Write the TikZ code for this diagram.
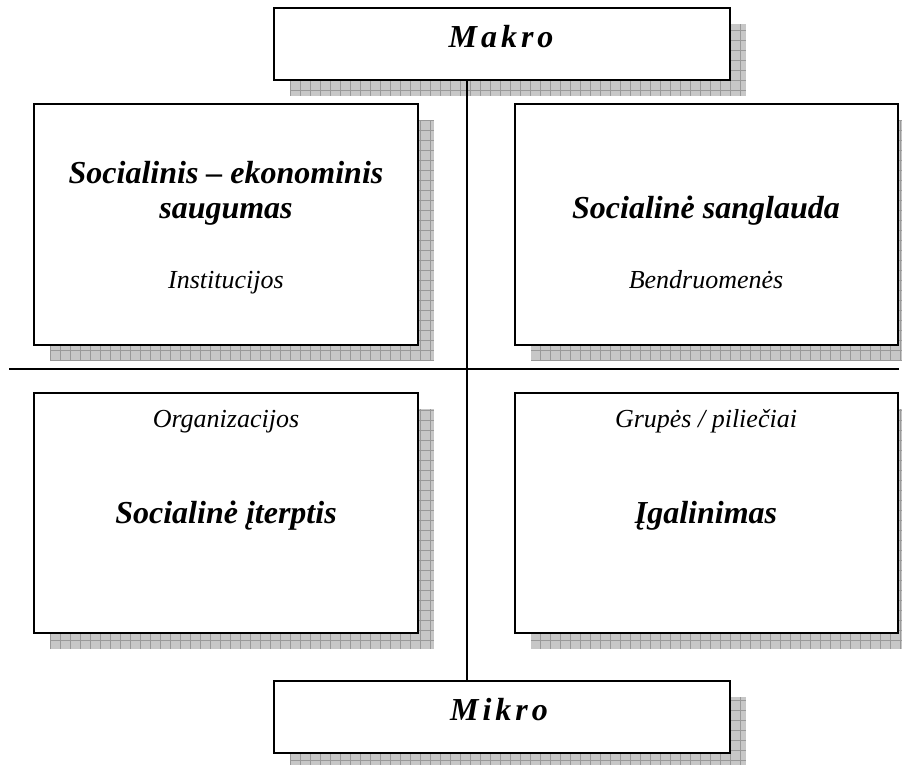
\documentclass[tikz,border=0pt]{standalone}
\usepackage{fontspec}
\setmainfont{Liberation Serif}
\newcommand\shbox[5]{%
  \begin{scope}
    \clip (#2+16,#3+16) rectangle (#4+16,#5+16);
    \fill[shadowfill] (#2+16,#3+16) rectangle (#4+16,#5+16);
    \draw[shadowgrid] (#2+16,#3+16) grid[step=10pt] (#4+16,#5+16);
  \end{scope}
  \node[box, minimum width=#4-#2, minimum height=#5-#3] (#1) at ({(#2+#4)/2},{(#3+#5)/2}) {};
}
\begin{document}
\begin{tikzpicture}[x=1pt,y=-1pt,
  box/.style={draw, line width=1.6pt, fill=white, inner sep=0pt, outer sep=0pt},
  shadowfill/.style={fill=black!22},
  shadowgrid/.style={draw=black!40, line width=0.7pt},
  big/.style={font=\fontsize{32}{36}\selectfont\bfseries\itshape, anchor=base, align=center},
  small/.style={font=\fontsize{26}{30}\selectfont\itshape, anchor=base},
  level/.style={font=\fontsize{32}{36}\selectfont\bfseries\itshape, anchor=base},
  axis/.style={line width=1.5pt}
]
\useasboundingbox (0,0) rectangle (902,765);
\shbox{makro}{274}{8}{730}{80}
\shbox{tl}{34}{104}{418}{345}
\shbox{tr}{515}{104}{898}{345}
\shbox{bl}{34}{393}{418}{633}
\shbox{br}{515}{393}{898}{633}
\shbox{mikro}{274}{681}{730}{753}
\coordinate (vx) at (467,0);
\coordinate (hl) at (9,369);
\coordinate (hr) at (899,369);
\draw[axis] (makro.south -| vx) -- (mikro.north -| vx);
\draw[axis] (hl) -- (hr);
\node[level] (tmakro) at (501,48) {M\kern4pt a\kern4pt k\kern4pt r\kern4pt o};
\node[level] (tmikro) at (499,720) {M\kern4pt i\kern4pt k\kern4pt r\kern4pt o};
\node[big] (ttl1) at (226,183) {Socialinis – ekonominis};
\node[big] (ttl2) at (226,218) {saugumas};
\node[small] (ttl3) at (226,288) {Institucijos};
\node[big] (ttr1) at (706,218) {Socialinė sanglauda};
\node[small] (ttr2) at (706,288) {Bendruomenės};
\node[small] (tbl1) at (226,427) {Organizacijos};
\node[big] (tbl2) at (226,523) {Socialinė įterptis};
\node[small] (tbr1) at (706,427) {Grupės / piliečiai};
\node[big] (tbr2) at (706,523) {Įgalinimas};
\end{tikzpicture}
\end{document}
